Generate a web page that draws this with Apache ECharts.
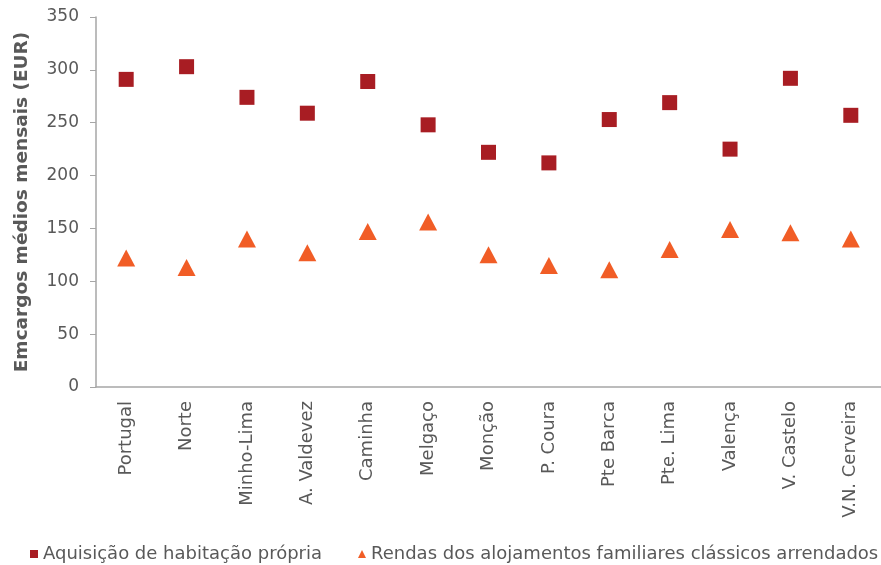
<!DOCTYPE html>
<html>
<head>
<meta charset="utf-8">
<script src="https://cdn.jsdelivr.net/npm/echarts@6/dist/echarts.min.js"></script>
<style>
  html, body { margin: 0; padding: 0; background: #fff; }
  #chart { width: 881px; height: 565px; }
</style>
</head>
<body>
<div id="chart"></div>
<script>
const categories = ['Portugal', 'Norte', 'Minho-Lima', 'A. Valdevez', 'Caminha', 'Melgaço', 'Monção',
  'P. Coura', 'Pte Barca', 'Pte. Lima', 'Valença', 'V. Castelo', 'V.N. Cerveira'];
const aquisicao = [291, 303, 274, 259, 289, 248, 222, 212, 253, 269, 225, 292, 257];
const rendas = [122, 113, 140, 127, 147, 156, 125, 115, 111, 130, 149, 146, 140];
const seriesNames = ['Aquisição de habitação própria', 'Rendas dos alojamentos familiares clássicos arrendados'];

const axisGray = '#a6a6a6';
const textGray = '#595959';

const chart = echarts.init(document.getElementById('chart'));
chart.setOption({
  backgroundColor: '#ffffff',
  animation: false,
  grid: { left: 96, right: 0, top: 17, bottom: 178, containLabel: false },
  legend: {
    left: 30, top: 545, width: 851, padding: 0,
    itemWidth: 8, itemHeight: 8, itemGap: 36,
    textStyle: { fontFamily: 'DejaVu Sans', fontSize: 18, color: textGray },
    data: [
      { name: seriesNames[0], icon: 'rect' },
      { name: seriesNames[1], icon: 'triangle' }
    ]
  },
  xAxis: {
    type: 'category',
    data: categories,
    boundaryGap: true,
    axisLine: { lineStyle: { color: axisGray, width: 1.5 } },
    axisTick: { alignWithLabel: false, length: 6, lineStyle: { color: axisGray } },
    axisLabel: {
      rotate: 90, margin: 14, interval: 0,
      fontFamily: 'DejaVu Sans', fontSize: 18, color: textGray
    },
    splitLine: { show: false }
  },
  yAxis: {
    type: 'value',
    min: 0, max: 350, interval: 50,
    name: 'Emcargos médios mensais (EUR)',
    nameLocation: 'middle', nameRotate: 90, nameGap: 64,
    nameTextStyle: { fontFamily: 'DejaVu Sans', fontWeight: 'bold', fontSize: 18.5, color: textGray },
    axisLine: { show: true, lineStyle: { color: axisGray, width: 1.5 } },
    axisTick: { show: true, length: 6, lineStyle: { color: axisGray } },
    axisLabel: { margin: 17, fontFamily: 'DejaVu Sans', fontSize: 17, color: textGray },
    splitLine: { show: false }
  },
  series: [
    {
      name: seriesNames[0], type: 'scatter', symbol: 'rect', symbolSize: 15,
      itemStyle: { color: '#a81d23', opacity: 1 },
      data: aquisicao
    },
    {
      name: seriesNames[1], type: 'scatter', symbol: 'triangle', symbolSize: [18, 17],
      itemStyle: { color: '#f15d26', opacity: 1 },
      data: rendas
    }
  ]
});
</script>
</body>
</html>
